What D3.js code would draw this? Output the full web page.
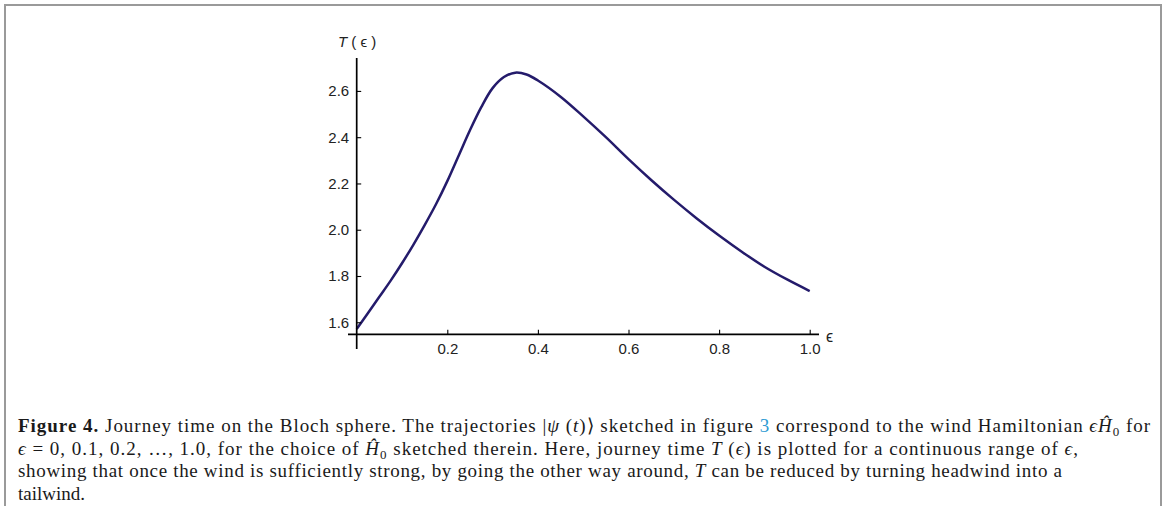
<!DOCTYPE html>
<html><head><meta charset="utf-8">
<script src="https://cdn.jsdelivr.net/npm/d3@7"></script>
<style>
html,body{margin:0;padding:0;background:#fff;}
svg{display:block;}
</style></head>
<body>
<svg id="chart" width="1168" height="506"></svg>
<script>
// ---- data ----
const epsilon = [0, 0.025, 0.05, 0.075, 0.1, 0.125, 0.15, 0.175, 0.2, 0.225, 0.25, 0.275, 0.3, 0.325, 0.35, 0.375, 0.4, 0.45, 0.5, 0.55, 0.6, 0.65, 0.7, 0.75, 0.8, 0.85, 0.9, 0.95, 1.0];
const journeyTime = [1.571, 1.64, 1.71, 1.78, 1.855, 1.935, 2.02, 2.11, 2.21, 2.32, 2.43, 2.53, 2.612, 2.66, 2.679, 2.671, 2.645, 2.575, 2.49, 2.40, 2.305, 2.215, 2.13, 2.05, 1.975, 1.905, 1.84, 1.785, 1.735];
const xTicks = [0.2, 0.4, 0.6, 0.8, 1.0];
const xMinorTicks = d3.range(0, 21).map(i => i * 0.05).filter(v => v <= 1.0001);
const yTicks = [1.6, 1.8, 2.0, 2.2, 2.4, 2.6];
const yMinorTicks = d3.range(31, 55).map(i => i * 0.05);
const xDomain = [0, 1];
const yDomain = [1.548, 2.741];

const svg = d3.select("#chart");

// frame
const frame = svg.append("g").attr("stroke", "#9a9a9a").attr("stroke-width", 2).attr("fill", "none");
frame.append("path").attr("d", "M5,506 L5,5 L1161,5 L1161,506");

const x = d3.scaleLinear().domain(xDomain).range([356.7, 809.7]);
const y = d3.scaleLinear().domain(yDomain).range([334.3, 58.3]);

const x0 = x(0), yAxisPos = y(yDomain[0]);

// curve
const line = d3.line().x((d, i) => x(epsilon[i])).y(d => y(d)).curve(d3.curveCatmullRom.alpha(0.5));
svg.append("path").datum(journeyTime)
  .attr("d", line)
  .attr("fill", "none")
  .attr("stroke", "#241b6b")
  .attr("stroke-width", 2.5)
  .attr("stroke-linejoin", "round");

const sans = "'Liberation Sans', Arial, sans-serif";

// y axis
const gy = svg.append("g").attr("transform", `translate(${x0},0)`);
gy.call(d3.axisLeft(y).tickValues(yMinorTicks).tickSize(-2.5).tickFormat(""))
  .call(g => g.select(".domain").remove());
gy.call(d3.axisLeft(y).tickValues(yTicks).tickSize(-4.5).tickPadding(7.5).tickFormat(d3.format(".1f")))
  .call(g => g.selectAll(".domain").remove());
gy.selectAll("line").attr("stroke", "#000").attr("stroke-width", 1.1);
gy.selectAll("text").attr("font-family", sans).attr("font-size", 15).attr("fill", "#222");

// x axis
const gx = svg.append("g").attr("transform", `translate(0,${yAxisPos})`);
gx.call(d3.axisBottom(x).tickValues(xMinorTicks).tickSize(-2.5).tickFormat(""))
  .call(g => g.select(".domain").remove());
gx.call(d3.axisBottom(x).tickValues(xTicks).tickSize(-4.5).tickPadding(9).tickFormat(d3.format(".1f")))
  .call(g => g.selectAll(".domain").remove());
gx.selectAll("line").attr("stroke", "#000").attr("stroke-width", 1.1);
gx.selectAll("text").attr("font-family", sans).attr("font-size", 15).attr("fill", "#222");

// axis lines
svg.append("line").attr("x1", x0).attr("x2", x0).attr("y1", 58).attr("y2", 349)
  .attr("stroke", "#000").attr("stroke-width", 1.7);
svg.append("line").attr("x1", 348).attr("x2", 819).attr("y1", yAxisPos).attr("y2", yAxisPos)
  .attr("stroke", "#000").attr("stroke-width", 1.7);

// axis titles
const yt = svg.append("text").attr("x", 338).attr("y", 47)
  .attr("font-family", sans).attr("font-size", 15).attr("fill", "#222");
yt.append("tspan").attr("font-style", "italic").text("T");
yt.append("tspan").text(" ( ");
yt.append("tspan").text("ϵ");
yt.append("tspan").text(" )");
svg.append("text").attr("x", 826).attr("y", 342)
  .attr("font-family", sans).attr("font-size", 16).attr("fill", "#222").text("ϵ");

// caption
const cap = svg.append("g").attr("font-family", "'Liberation Serif', 'Times New Roman', serif").attr("font-size", 19).attr("fill", "#1a1a1a");
function addLine(yy, parts, width) {
  const t = cap.append("text").attr("x", 18).attr("y", yy);
  if (width) t.attr("textLength", width).attr("lengthAdjust", "spacing");
  parts.forEach(p => {
    const s = t.append("tspan").text(p.t);
    if (p.b) s.attr("font-weight", "bold");
    if (p.i) s.attr("font-style", "italic");
    if (p.c) s.attr("fill", p.c);
    if (p.sub) s.attr("font-size", 13).attr("dy", 4);
    if (p.up) s.attr("dy", -4);
  });
  return t;
}
addLine(432, [
  {t: "Figure 4.", b: true},
  {t: " Journey time on the Bloch sphere. The trajectories |"},
  {t: "ψ", i: true},
  {t: " ("},
  {t: "t", i: true},
  {t: ")⟩ sketched in figure "},
  {t: "3", c: "#2f9bd3"},
  {t: " correspond to the wind Hamiltonian "},
  {t: "ϵ", i: true},
  {t: "Ĥ", i: true},
  {t: "0", sub: true},
  {t: " for", up: true}
], 1132);
addLine(454.5, [
  {t: "ϵ", i: true},
  {t: " = 0,  0.1,  0.2,  …,  1.0, for the choice of "},
  {t: "Ĥ", i: true},
  {t: "0", sub: true},
  {t: " sketched therein. Here, journey time ", up: true},
  {t: "T", i: true},
  {t: " ("},
  {t: "ϵ", i: true},
  {t: ") is plotted for a continuous range of "},
  {t: "ϵ", i: true},
  {t: ","}
], 1060);
addLine(477, [
  {t: "showing that once the wind is sufficiently strong, by going the other way around, "},
  {t: "T", i: true},
  {t: " can be reduced by turning headwind into a"}
], 1044);
addLine(499.5, [{t: "tailwind."}]);
</script>
</body></html>
